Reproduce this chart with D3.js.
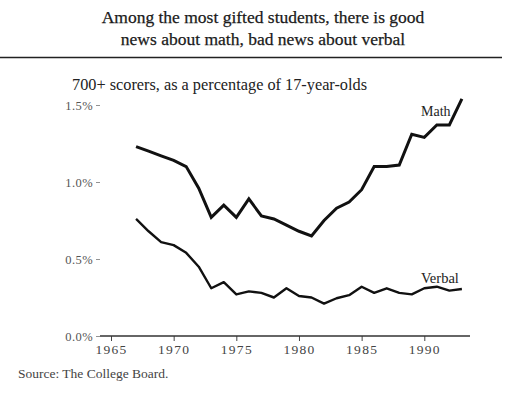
<!DOCTYPE html>
<html>
<head>
<meta charset="utf-8">
<script src="https://cdn.jsdelivr.net/npm/d3@7"></script>
<style>
  body { margin: 0; background: #fff; }
  svg { display: block; font-family: "Liberation Serif", "DejaVu Serif", serif; }
</style>
</head>
<body>
<svg id="chart" width="529" height="399"></svg>
<script>
const years = d3.range(1967, 1994);

const math = [1.23, 1.20, 1.17, 1.14, 1.10, 0.96, 0.77, 0.85, 0.77, 0.89, 0.78, 0.76,
    0.72, 0.68, 0.65, 0.75, 0.83, 0.87, 0.95, 1.10, 1.10, 1.11, 1.31, 1.29, 1.37, 1.37, 1.54];

const verbal = [0.76, 0.68, 0.61, 0.59, 0.54, 0.45, 0.31, 0.35, 0.27, 0.29, 0.28, 0.25,
    0.31, 0.26, 0.25, 0.21, 0.245, 0.265, 0.32, 0.28, 0.31, 0.28, 0.27, 0.31, 0.32, 0.295, 0.305];

const yTicks = [0, 0.5, 1.0, 1.5];
const xTicks = [1965, 1970, 1975, 1980, 1985, 1990];

const titleLines = ['Among the most gifted students, there is good',
    'news about math, bad news about verbal'];

const svg = d3.select('#chart');

const xScale = d3.scaleLinear()
    .domain([1965, 1990])
    .range([111, 424.3]);

const yScale = d3.scaleLinear()
    .domain([0, 1.5])
    .range([336, 105]);

// title block
svg.selectAll('.title')
    .data(titleLines)
    .enter()
    .append('text')
    .attr('x', 263)
    .attr('y', (d, i) => 23 + i * 22)
    .attr('text-anchor', 'middle')
    .attr('font-size', 17.5)
    .attr('fill', '#1a1a1a')
    .attr('stroke', '#1a1a1a')
    .attr('stroke-width', 0.25)
    .text(d => d);

svg.append('line')
    .attr('x1', 0).attr('x2', 502)
    .attr('y1', 57.5).attr('y2', 57.5)
    .attr('stroke', '#222')
    .attr('stroke-width', 1.6);

svg.append('text')
    .attr('x', 72)
    .attr('y', 90)
    .attr('font-size', 16.3)
    .attr('fill', '#222')
    .text('700+ scorers, as a percentage of 17-year-olds');

// y axis: labels with a small dash, no axis line
const yAxis = d3.axisLeft(yScale)
    .tickValues(yTicks)
    .tickSize(4)
    .tickPadding(3)
    .tickFormat(d => d3.format('.1f')(d) + '%');

svg.append('g')
    .attr('transform', 'translate(100,0)')
    .call(yAxis)
    .call(g => g.select('.domain').remove())
    .call(g => g.selectAll('line').attr('stroke', '#777').attr('stroke-width', 0.8))
    .call(g => g.selectAll('text')
        .attr('font-family', '"Liberation Serif", serif')
        .attr('font-size', 12.5)
        .attr('letter-spacing', 0.4)
        .attr('fill', '#555'));

// x axis
const xAxis = d3.axisBottom(xScale)
    .tickValues(xTicks)
    .tickSize(5)
    .tickPadding(3)
    .tickFormat(d3.format('d'));

svg.append('g')
    .attr('transform', 'translate(0,336)')
    .call(xAxis)
    .call(g => g.select('.domain').remove())
    .call(g => g.selectAll('line').attr('stroke', '#444'))
    .call(g => g.selectAll('text')
        .attr('font-family', '"Liberation Serif", serif')
        .attr('font-size', 13.5)
        .attr('letter-spacing', 1.3)
        .attr('fill', '#444'));

svg.append('line')
    .attr('x1', 100).attr('x2', 470)
    .attr('y1', 336).attr('y2', 336)
    .attr('stroke', '#333')
    .attr('stroke-width', 1.4);

// series
const line = d3.line()
    .x((d, i) => xScale(years[i]))
    .y(d => yScale(d));

svg.append('path')
    .attr('d', line(math))
    .attr('fill', 'none')
    .attr('stroke', '#111')
    .attr('stroke-width', 3)
    .attr('stroke-linejoin', 'miter');

svg.append('path')
    .attr('d', line(verbal))
    .attr('fill', 'none')
    .attr('stroke', '#111')
    .attr('stroke-width', 2.4)
    .attr('stroke-linejoin', 'round');

svg.append('text')
    .attr('x', 421)
    .attr('y', 116)
    .attr('font-size', 14)
    .attr('fill', '#222')
    .text('Math');

svg.append('text')
    .attr('x', 421)
    .attr('y', 283)
    .attr('font-size', 14.5)
    .attr('fill', '#222')
    .text('Verbal');

svg.append('text')
    .attr('x', 18)
    .attr('y', 378)
    .attr('font-size', 13.5)
    .attr('fill', '#444')
    .text('Source: The College Board.');
</script>
</body>
</html>
